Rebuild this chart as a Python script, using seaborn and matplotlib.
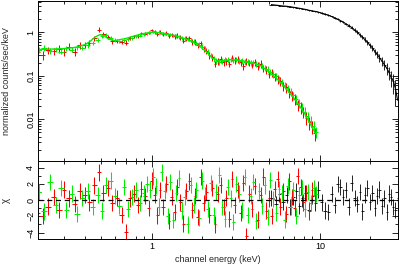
import numpy as np
import seaborn as sns
import matplotlib.pyplot as plt
from matplotlib.ticker import LogLocator, NullFormatter, FixedLocator, MultipleLocator

# ---- spectrum 1 (red) ----
red_edges = [0.20, 0.215, 0.232, 0.25, 0.27, 0.29, 0.31, 0.335, 0.36, 0.385, 0.41, 0.44,
             0.47, 0.50, 0.53, 0.565, 0.60, 0.64, 0.68, 0.72, 0.76, 0.80, 0.845, 0.89,
             0.935, 0.98, 1.02, 1.06, 1.10, 1.14, 1.19, 1.24, 1.29, 1.34, 1.39, 1.45,
             1.51, 1.57, 1.63, 1.70, 1.77, 1.84, 1.91, 1.99, 2.07, 2.15, 2.24, 2.33,
             2.42, 2.52, 2.62, 2.72, 2.83, 2.94, 3.06, 3.18, 3.31, 3.44, 3.58, 3.72,
             3.87, 4.02, 4.18, 4.35, 4.52, 4.70, 4.89, 5.08, 5.28, 5.49, 5.71, 5.94,
             6.18, 6.43, 6.69, 6.96, 7.24, 7.53, 7.83, 8.14, 8.47, 8.81, 9.16, 9.53]
red_flux = [0.36, 0.30, 0.39, 0.37, 0.42, 0.36, 0.47, 0.36, 0.50, 0.52, 0.58, 0.72,
            1.15, 0.90, 0.78, 0.62, 0.64, 0.60, 0.58, 0.74, 0.80, 0.83, 0.95, 0.93, 0.98,
            1.10, 1.02, 0.92, 1.00, 0.90, 0.98, 0.82, 0.88, 0.80, 0.84, 0.76, 0.64,
            0.74, 0.72, 0.60, 0.60, 0.50, 0.56, 0.42, 0.38, 0.30, 0.27, 0.19, 0.22,
            0.24, 0.21, 0.22, 0.19, 0.26, 0.23, 0.24, 0.21, 0.17, 0.22, 0.20, 0.18,
            0.21, 0.17, 0.19, 0.15, 0.14, 0.11, 0.12, 0.095, 0.085, 0.075, 0.058,
            0.054, 0.042, 0.036, 0.030, 0.022, 0.019, 0.015, 0.011, 0.0085, 0.0068, 0.0048]
red_relerr = [0.22, 0.25, 0.2, 0.2, 0.2, 0.2, 0.18, 0.2, 0.17, 0.16, 0.15, 0.14,
              0.12, 0.12, 0.11, 0.12, 0.11, 0.11, 0.12, 0.1, 0.1, 0.1, 0.09, 0.09, 0.09,
              0.1, 0.1, 0.1, 0.11, 0.11, 0.11, 0.12, 0.12, 0.12, 0.12, 0.13, 0.13, 0.13,
              0.13, 0.14, 0.14, 0.14, 0.15, 0.15, 0.16, 0.17, 0.18, 0.18, 0.18, 0.18,
              0.18, 0.18, 0.18, 0.18, 0.18, 0.18, 0.18, 0.18, 0.18, 0.18,
              0.18, 0.18, 0.19, 0.19, 0.2, 0.2, 0.2, 0.21, 0.21, 0.22, 0.22, 0.23,
              0.24, 0.25, 0.26, 0.27, 0.28, 0.29, 0.3, 0.31, 0.32, 0.33, 0.35]
red_chi = [-1.6, -2.0, -0.8, 0.4, -1.2, 1.3, 0.2, -0.5, 1.1, 0.6, -0.3, 1.8, 3.4,
           0.9, 1.5, -0.4, 0.3, -1.8, -3.9, 0.2, 0.8, -0.6, 1.4, 0.5, -1.0,
           2.4, 0.6, -1.9, 1.2, -0.9, 2.0, -2.6, 0.4, -1.5, 1.6, -0.3, -2.9, 1.1,
           2.3, -1.2, 0.5, -2.1, 2.8, -0.4, 1.0, -1.8, 1.5, -3.0, 0.7, 1.9, -0.9,
           0.3, -2.3, 2.6, -0.6, 1.2, -1.6, 2.1, -4.4, 0.8, -1.1, 1.7, -2.4, 0.6,
           2.9, -1.3, 0.2, -2.0, 1.4, 2.6, -0.8, 1.1, -1.7, 2.3, 0.4, -1.0, 3.0,
           1.6, -0.3, 0.9, -1.4, 1.2, 0.6]

# ---- spectrum 2 (green) ----
green_edges = [0.205, 0.22, 0.238, 0.257, 0.277, 0.298, 0.32, 0.345, 0.372, 0.40, 0.43,
               0.46, 0.49, 0.52, 0.55, 0.585, 0.62, 0.66, 0.70, 0.74, 0.78, 0.825, 0.87,
               0.915, 0.96, 1.00, 1.04, 1.08, 1.12, 1.165, 1.215, 1.265, 1.315, 1.37,
               1.425, 1.48, 1.54, 1.60, 1.665, 1.735, 1.805, 1.875, 1.95, 2.03, 2.11,
               2.195, 2.285, 2.375, 2.47, 2.57, 2.67, 2.775, 2.885, 3.0, 3.12, 3.245,
               3.375, 3.51, 3.65, 3.795, 3.945, 4.10, 4.265, 4.435, 4.61, 4.795, 4.985,
               5.18, 5.385, 5.60, 5.825, 6.06, 6.305, 6.56, 6.825, 7.10, 7.385, 7.68,
               7.985, 8.305, 8.64, 8.985, 9.35, 9.7]
green_flux = [0.40, 0.44, 0.38, 0.41, 0.36, 0.43, 0.40, 0.46, 0.44, 0.50, 0.58, 0.66,
              0.80, 0.86, 0.74, 0.66, 0.62, 0.66, 0.70, 0.72, 0.80, 0.84, 0.90, 0.94, 1.00,
              1.05, 0.98, 1.04, 0.95, 0.93, 0.90, 0.88, 0.85, 0.82, 0.78, 0.74, 0.72,
              0.69, 0.66, 0.62, 0.57, 0.52, 0.47, 0.42, 0.36, 0.30, 0.25, 0.22, 0.21,
              0.22, 0.24, 0.23, 0.24, 0.23, 0.24, 0.22, 0.22, 0.21, 0.21, 0.20, 0.20,
              0.19, 0.18, 0.17, 0.155, 0.14, 0.125, 0.11, 0.097, 0.085, 0.072, 0.062,
              0.052, 0.044, 0.036, 0.029, 0.024, 0.019, 0.015, 0.012, 0.0092, 0.0071, 0.0052]
green_relerr = [0.15, 0.14, 0.15, 0.14, 0.14, 0.13, 0.13, 0.13, 0.12, 0.12, 0.11, 0.1,
                0.1, 0.09, 0.09, 0.09, 0.09, 0.08, 0.08, 0.08, 0.08, 0.08, 0.08, 0.08, 0.08,
                0.08, 0.08, 0.08, 0.09, 0.09, 0.09, 0.09, 0.1, 0.1, 0.1, 0.1, 0.11, 0.11,
                0.11, 0.12, 0.12, 0.12, 0.13, 0.13, 0.14, 0.14, 0.15, 0.15, 0.15, 0.15,
                0.15, 0.15, 0.15, 0.15, 0.15, 0.15, 0.15, 0.15, 0.15, 0.15,
                0.15, 0.15, 0.16, 0.16, 0.16, 0.17, 0.17, 0.17, 0.18, 0.18, 0.19, 0.19,
                0.2, 0.2, 0.21, 0.22, 0.23, 0.24, 0.25, 0.26, 0.27, 0.28, 0.3]
green_chi = [1.0, -1.4, 2.2, -0.6, 1.5, -1.2, 0.8, -1.7, 0.3, 1.1, -0.9, 0.6, -1.3,
             1.9, 2.4, 0.5, -0.7, 1.6, -1.1, 0.4, 1.2, -0.4, 0.9, 2.0, 1.3,
             2.9, 1.7, -0.8, 3.4, 1.1, -2.0, 2.2, -2.5, 0.9, 2.7, -1.3, 0.4, -3.0,
             1.9, -0.6, 1.2, -2.2, 2.4, 0.6, -1.1, 2.1, -1.9, 1.0, 3.1, -0.9, -2.3,
             1.6, 0.2, -2.7, 2.0, 0.8, -1.2, 2.8, -1.8, 0.5, 2.2, -2.6, 1.1, -0.7,
             1.8, -2.1, 2.5, 0.1, -1.6, 1.4, 0.9, -2.4, 1.7, -0.8, 1.2, -2.0, 0.6,
             1.5, -1.1, 1.0, -0.4, 1.5, 0.7]

# ---- spectrum 3 (black, hard band) ----
black_edges = [5.0, 5.3, 5.6, 5.9, 6.2, 6.5, 6.8, 7.1, 7.4, 7.7, 8.0, 8.4, 8.8, 9.2,
               9.6, 10.0, 10.5, 11.0, 11.5, 12.0, 12.5, 13.0, 13.5, 14.0, 14.6, 15.2,
               15.8, 16.4, 17.0, 17.6, 18.2, 18.8, 19.5, 20.2, 20.9, 21.6, 22.3, 23.0,
               23.8, 24.6, 25.4, 26.2, 27.0, 27.8, 28.6, 29.4]
black_flux = [4.3, 4.2, 4.1, 4.0, 3.95, 3.85, 3.75, 3.65, 3.55, 3.45, 3.35, 3.2, 3.1,
              3.0, 2.9, 2.75, 2.6, 2.45, 2.3, 2.15, 2.0, 1.85, 1.72, 1.55, 1.42, 1.28,
              1.12, 1.0, 0.88, 0.78, 0.68, 0.60, 0.50, 0.44, 0.36, 0.31, 0.26, 0.22,
              0.18, 0.15, 0.12, 0.09, 0.075, 0.05, 0.028]
black_relerr = [0.02] * 10 + [0.03] * 5 + [0.04, 0.04, 0.05, 0.05, 0.05, 0.06, 0.06,
                0.07, 0.07, 0.08, 0.08, 0.09, 0.1, 0.1, 0.11, 0.12, 0.13, 0.14, 0.15,
                0.16, 0.18, 0.2, 0.22, 0.25, 0.3, 0.35, 0.4, 0.5, 0.6, 0.8]
black_chi = [0.3, -0.5, 0.8, -0.2, 0.6, -0.9, 0.4, 1.1, -0.7, 0.2, 0.9, -1.2, 0.5,
             -0.4, 1.3, -0.3, -1.3, -1.5, 0.7, -0.6, 2.0, 1.6, 0.4, 1.2, -0.8, 2.1,
             0.3, -0.5, 1.0, -1.4, 0.6, 1.5, -0.2, 0.9, -1.0, 0.5, 1.3, -0.7, 0.2,
             -1.5, 0.8, 0.4, -0.9, -1.2, 0.3]

# ---- folded model (soft band) ----
model_e = [0.21, 0.25, 0.3, 0.35, 0.4, 0.43, 0.46, 0.49, 0.52, 0.55, 0.6, 0.7, 0.8,
           0.9, 1.0, 1.1, 1.2, 1.35, 1.5, 1.7, 1.9, 2.1, 2.3, 2.5, 3.0, 3.5, 4.0, 4.5,
           5.0, 5.5, 6.0, 7.0, 8.0, 9.0, 9.5]
model_f = [0.40, 0.41, 0.42, 0.45, 0.52, 0.62, 0.78, 0.88, 0.84, 0.70, 0.64, 0.72,
           0.84, 0.94, 1.0, 0.98, 0.93, 0.85, 0.76, 0.63, 0.50, 0.36, 0.25, 0.22, 0.235,
           0.22, 0.20, 0.165, 0.12, 0.088, 0.063, 0.031, 0.015, 0.0065, 0.0045]

sns.set_theme(style="ticks")
plt.rcParams['font.family'] = ['Liberation Sans', 'DejaVu Sans']
plt.rcParams['font.size'] = 6.5
plt.rcParams['axes.linewidth'] = 0.7

fig = plt.figure(figsize=(4.15, 2.68), dpi=100)
ax1 = fig.add_axes([0.0916, 0.399, 0.8675, 0.597])
ax2 = fig.add_axes([0.0916, 0.108, 0.8675, 0.291], sharex=ax1)

# black first in the residual panel so the soft-band data sit on top of it
series = [
    (black_edges, black_flux, black_relerr, black_chi, 'black', 0.6),
    (red_edges, red_flux, red_relerr, red_chi, 'red', 0.75),
    (green_edges, green_flux, green_relerr, green_chi, '#00ee00', 0.75),
]

for edges, flux, relerr, chi, col, lw in series:
    edges = np.array(edges)
    x = (edges[:-1] + edges[1:]) / 2
    xerr = (edges[1:] - edges[:-1]) / 2
    flux = np.array(flux)
    yerr = flux * np.array(relerr)
    ax1.errorbar(x, flux, xerr=xerr, yerr=yerr, fmt='none', ecolor=col,
                 elinewidth=lw, capsize=0)
    ax2.errorbar(x, chi, xerr=xerr, yerr=1.0, fmt='none', ecolor=col,
                 elinewidth=lw, capsize=0)

sns.lineplot(x=model_e, y=model_f, ax=ax1, color='#00ee00', lw=1.0,
             estimator=None, sort=False)
black_mid = (np.array(black_edges[:-1]) + np.array(black_edges[1:])) / 2
sns.lineplot(x=black_mid, y=black_flux, ax=ax1, color='black', lw=0.8,
             estimator=None, sort=False)

ax2.axhline(0, color='black', lw=0.9, ls=(0, (4, 3)))

ax1.set_xscale('log')
ax1.set_yscale('log')
ax1.set_xlim(0.21, 29.2)
ax1.set_ylim(0.0011, 5.2)
ax2.set_ylim(-4.8, 4.8)

for ax in (ax1, ax2):
    ax.tick_params(which='both', direction='in', top=True, right=True,
                   width=0.6, colors='black', labelsize=6.5, pad=2)
    ax.tick_params(which='major', length=4)
    ax.tick_params(which='minor', length=2)
    for sp in ax.spines.values():
        sp.set_color('black')
        sp.set_linewidth(0.7)

ax1.xaxis.set_major_locator(FixedLocator([1, 10]))
ax1.xaxis.set_minor_locator(LogLocator(base=10, subs=np.arange(2, 10)))
ax1.xaxis.set_minor_formatter(NullFormatter())
ax1.yaxis.set_major_locator(FixedLocator([0.01, 0.1, 1]))
ax1.yaxis.set_minor_locator(LogLocator(base=10, subs=np.arange(2, 10)))
ax1.yaxis.set_minor_formatter(NullFormatter())
ax1.set_yticklabels(['0.01', '0.1', '1'], rotation=90, va='center')
ax1.tick_params(axis='x', labelbottom=False)

ax2.set_xticks([1, 10])
ax2.set_xticklabels(['1', '10'])
ax2.yaxis.set_major_locator(MultipleLocator(2))
ax2.yaxis.set_minor_locator(MultipleLocator(1))
ax2.set_yticks([-4, -2, 0, 2, 4])
ax2.set_yticklabels(['\u22124', '\u22122', '0', '2', '4'], rotation=90, va='center')

ax1.set_ylabel('normalized counts/sec/keV', fontsize=6.5)
ax2.set_ylabel('\u03c7', fontsize=7)
ax2.set_xlabel('channel energy (keV)', fontsize=6.5, labelpad=3)
ax1.yaxis.set_label_coords(-0.075, 0.5)
ax2.yaxis.set_label_coords(-0.075, 0.5)

fig.savefig('out.png', dpi=100)
